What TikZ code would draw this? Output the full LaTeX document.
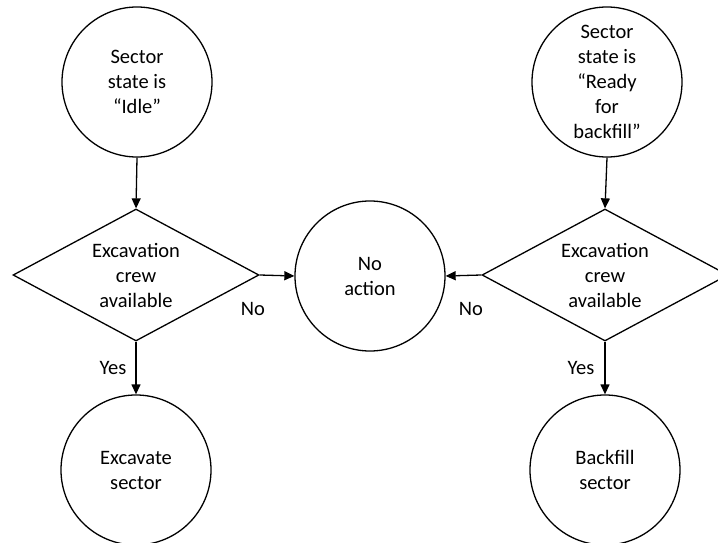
\documentclass[tikz,border=0pt]{standalone}
\usepackage{fontspec}
\setmainfont{Carlito}
\usetikzlibrary{shapes.geometric,arrows.meta}
\begin{document}
\begin{tikzpicture}[x=1pt,y=-1pt,
  every node/.style={font=\fontsize{20.5}{25}\selectfont},
  circ/.style={draw, circle, line width=1.3pt, minimum size=150pt, inner sep=0pt, align=center},
  dec/.style={draw, diamond, line width=1.3pt, minimum width=246pt, minimum height=132pt, shape aspect=1.86, inner sep=0pt, align=center},
  arr/.style={line width=1.3pt, -{Triangle[length=10pt,width=9pt]}},
  lbl/.style={inner sep=0pt}]
\useasboundingbox (0,0) rectangle (718,543);
\node[circ] (c1) at (137,82) {Sector\\state is\\“Idle”};
\node[dec] (d1) at (136,275) {Excavation\\crew\\available};
\node[circ] (e1) at (136,470) {Excavate\\sector};
\node[circ] (mid) at (370,276) {No\\action};
\node[circ] (c2) at (607,82) {Sector\\state is\\“Ready\\for\\backfill”};
\node[dec] (d2) at (605,275) {Excavation\\crew\\available};
\node[circ] (e2) at (605,470) {Backfill\\sector};
\draw[arr] (c1.south) -- (d1.north);
\draw[arr] (d1.south) -- (e1.north);
\draw[arr] (d1.east) -- (mid.west);
\draw[arr] (c2.south) -- (d2.north);
\draw[arr] (d2.south) -- (e2.north);
\draw[arr] (d2.west) -- (mid.east);
\node[lbl] (y1) at (113,368) {Yes};
\node[lbl] (n1) at (253,309) {No};
\node[lbl] (y2) at (581,368) {Yes};
\node[lbl] (n2) at (471,309) {No};
\end{tikzpicture}
\end{document}
